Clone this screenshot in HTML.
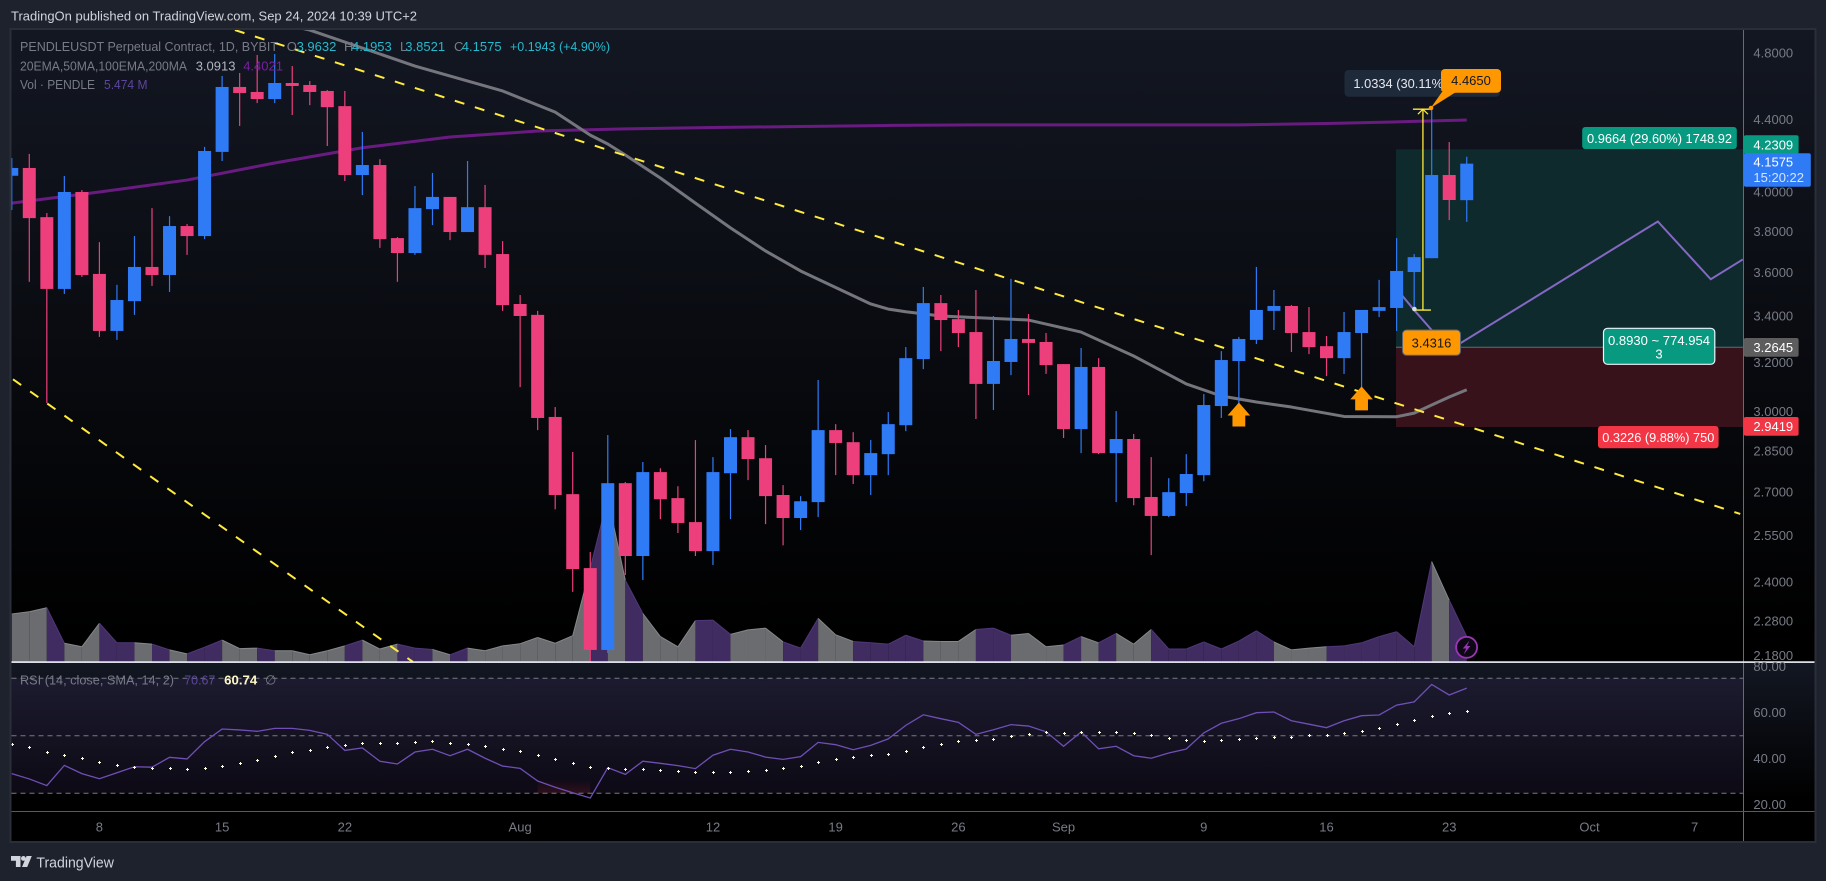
<!DOCTYPE html>
<html lang="en">
<head>
<meta charset="utf-8">
<title>PENDLEUSDT chart</title>
<style>
html,body{margin:0;padding:0;background:#1e222d;overflow:hidden}
svg{display:block}
text{font-family:"Liberation Sans",sans-serif;font-size:13px}
.tick{fill:#787b86}
.gray{fill:#787b86}
.cyan{fill:#26b8cc}
</style>
</head>
<body>
<svg id="root" xmlns="http://www.w3.org/2000/svg" width="1826" height="881" viewBox="0 0 1826 881">
<defs>
<linearGradient id="paneGrad" gradientUnits="userSpaceOnUse" x1="0" y1="30" x2="0" y2="640"><stop offset="0" stop-color="#131722"/><stop offset="1" stop-color="#000"/></linearGradient>
<linearGradient id="rsiGrad" gradientUnits="userSpaceOnUse" x1="0" y1="663" x2="0" y2="800"><stop offset="0" stop-color="#131722"/><stop offset="1" stop-color="#000"/></linearGradient>
<linearGradient id="osGrad" gradientUnits="userSpaceOnUse" x1="0" y1="780" x2="0" y2="793"><stop offset="0" stop-color="#f23645" stop-opacity="0"/><stop offset="1" stop-color="#f23645" stop-opacity=".15"/></linearGradient>
<clipPath id="mainClip"><rect x="11.5" y="30" width="1732" height="631.5"/></clipPath>
<clipPath id="rsiClip"><rect x="11.5" y="663" width="1732" height="148"/></clipPath>
</defs>

<rect x="0" y="0" width="1826" height="881" fill="#1e222d"/>
<text x="11" y="20.5" fill="#d1d4dc" textLength="406" lengthAdjust="spacingAndGlyphs">TradingOn published on TradingView.com, Sep 24, 2024 10:39 UTC+2</text>

<rect x="10.5" y="29" width="1805" height="813" fill="none" stroke="#2a2e39" stroke-width="2"/>
<rect x="11.5" y="30" width="1803" height="632" fill="url(#paneGrad)"/>
<rect x="11.5" y="663" width="1803" height="148" fill="url(#rsiGrad)"/>
<rect x="11.5" y="811" width="1803" height="30" fill="#000"/>

<g clip-path="url(#mainClip)">
  <rect x="1396" y="149.3" width="348" height="198" fill="#0e2a2d"/>
  <rect x="1396" y="347.3" width="348" height="79.7" fill="#38121a"/>
  <line x1="1396" x2="1744" y1="347.3" y2="347.3" stroke="#5f6f70" stroke-width="1"/>
  <g id="volumeLayer"></g>
  <g id="drawLayer"></g>
  <g id="candleLayer"></g>
  <g id="overLayer"></g>
</g>

<g clip-path="url(#rsiClip)">
  <g id="rsiLayer"></g>
</g>

<rect x="1743" y="30" width="1" height="811" fill="#686b75"/>
<rect x="11.5" y="811" width="1803" height="1" fill="#575a64"/>
<rect x="11.5" y="661.3" width="1803" height="1.6" fill="#f0f3fa"/>

<g id="axisLayer"></g>

<!-- legend -->
<g>
  <text x="20" y="51" class="gray" textLength="258" lengthAdjust="spacingAndGlyphs">PENDLEUSDT Perpetual Contract, 1D, BYBIT</text>
  <text x="286.7" y="51" class="gray">O</text>
  <text x="296.6" y="51" class="cyan">3.9632</text>
  <text x="344" y="51" class="gray">H</text>
  <text x="352" y="51" class="cyan">4.1953</text>
  <text x="400" y="51" class="gray">L</text>
  <text x="405.3" y="51" class="cyan">3.8521</text>
  <text x="454" y="51" class="gray">C</text>
  <text x="461.8" y="51" class="cyan">4.1575</text>
  <text x="510" y="51" class="cyan" textLength="100" lengthAdjust="spacingAndGlyphs">+0.1943 (+4.90%)</text>
  <text x="20" y="70.5" class="gray" textLength="167" lengthAdjust="spacingAndGlyphs">20EMA,50MA,100EMA,200MA</text>
  <text x="195.7" y="70.5" fill="#b2b5be">3.0913</text>
  <text x="243.2" y="70.5" fill="#7b1fa2">4.4021</text>
  <text x="20" y="89" class="gray" textLength="75" lengthAdjust="spacingAndGlyphs">Vol · PENDLE</text>
  <text x="104" y="89" fill="#5e45a0" textLength="43.5" lengthAdjust="spacingAndGlyphs">5.474 M</text>
  <text x="20" y="684.5" class="gray" textLength="154" lengthAdjust="spacingAndGlyphs">RSI (14, close, SMA, 14, 2)</text>
  <text x="184.3" y="684.5" fill="#5e45a0" textLength="31" lengthAdjust="spacingAndGlyphs">70.67</text>
  <text x="224.2" y="684.5" fill="#fff9c4" font-weight="bold" style="font-weight:bold" textLength="33" lengthAdjust="spacingAndGlyphs">60.74</text>
  <text x="265" y="684.5" class="gray">∅</text>
</g>

<!-- measure + callouts -->
<g>
  <rect x="1344.5" y="70" width="155.5" height="26.7" rx="4" fill="#1e2a3a"/>
  <text x="1353.4" y="88" fill="#e4e7ee" textLength="94" lengthAdjust="spacingAndGlyphs">1.0334 (30.11%)</text>
</g>
<g>
  <polygon points="1430.7,108 1442,92 1456,92" fill="#ff9800"/>
  <rect x="1441" y="69" width="60" height="23.7" rx="4" fill="#ff9800"/>
  <text x="1471" y="85" text-anchor="middle" fill="#131722">4.4650</text>
  <circle cx="1431" cy="108" r="2.3" fill="#ff9800"/>
</g>
<g>
  <rect x="1402.5" y="330" width="58" height="25.3" rx="4" fill="#ff9800" stroke="#5d6470" stroke-width="1"/>
  <text x="1431.5" y="347.5" text-anchor="middle" fill="#131722">3.4316</text>
  <circle cx="1414.4" cy="309" r="2.3" fill="#d8dce6"/>
</g>
<g>
  <rect x="1582.2" y="127" width="154.6" height="22" rx="3" fill="#089981"/>
  <text x="1659.5" y="143" text-anchor="middle" fill="#fff" textLength="145" lengthAdjust="spacingAndGlyphs">0.9664 (29.60%) 1748.92</text>
  <rect x="1603.5" y="328.3" width="111.3" height="36" rx="4" fill="#089981" stroke="#f0f3fa" stroke-width="1.2"/>
  <text x="1659" y="345" text-anchor="middle" fill="#fff" textLength="102" lengthAdjust="spacingAndGlyphs">0.8930 ~ 774.954</text>
  <text x="1659" y="358.5" text-anchor="middle" fill="#fff">3</text>
  <rect x="1598" y="426" width="120.6" height="22.3" rx="3" fill="#f23645"/>
  <text x="1658.3" y="442" text-anchor="middle" fill="#fff" textLength="112" lengthAdjust="spacingAndGlyphs">0.3226 (9.88%) 750</text>
</g>

<!-- axis price tags -->
<g>
  <rect x="1743.8" y="135.3" width="54.8" height="18.7" rx="2" fill="#089981"/>
  <text x="1753.4" y="149.5" fill="#fff">4.2309</text>
  <rect x="1743.8" y="153.3" width="67" height="33.4" rx="2" fill="#2f7bf6"/>
  <text x="1753.4" y="166.5" fill="#fff">4.1575</text>
  <text x="1753.4" y="182" fill="#d5e4ff">15:20:22</text>
  <rect x="1743.8" y="338" width="54.8" height="18.7" rx="2" fill="#5d5d5d"/>
  <text x="1753.4" y="352" fill="#fff">3.2645</text>
  <rect x="1743.8" y="417" width="54.8" height="18.7" rx="2" fill="#f23645"/>
  <text x="1753.4" y="431" fill="#fff">2.9419</text>
</g>

<!-- lightning button -->
<g>
  <circle cx="1466.6" cy="647.3" r="10.5" fill="#0c0814" stroke="#9c35b5" stroke-width="1.8"/>
  <polygon points="1469.5,640.5 1462.8,648.5 1466.2,648.5 1463.6,654.5 1470.4,646 1467,646" fill="#9c35b5"/>
</g>

<!-- footer logo -->
<g>
  <path d="M11 856h9.5v11h-4.6v-6.3H11z" fill="#d1d4dc"/>
  <circle cx="23.4" cy="858.4" r="2.4" fill="#d1d4dc"/>
  <path d="M26.6 856h5.2l-4.6 11h-5.2z" fill="#d1d4dc"/>
  <text x="36.4" y="867.5" fill="#d1d4dc" style="font-size:15px" textLength="77.5" lengthAdjust="spacingAndGlyphs">TradingView</text>
</g>
</svg>

<script>
var barOpen=[4.092,4.134,3.876,3.528,4.006,3.598,3.339,3.472,3.631,3.593,
3.831,3.781,4.222,4.597,4.567,4.525,4.621,4.609,4.573,4.483,
4.096,4.150,3.771,3.698,3.917,3.980,3.801,3.927,3.693,3.459,
3.410,2.983,2.696,2.447,2.198,2.735,2.486,2.775,2.682,2.599,
2.502,2.771,2.905,2.826,2.693,2.613,2.668,2.932,2.886,2.764,
2.841,2.951,3.218,3.463,3.391,3.334,3.115,3.206,3.304,3.291,
3.197,2.936,3.185,2.845,2.898,2.686,2.620,2.700,2.764,3.026,
3.210,3.300,3.428,3.450,3.334,3.273,3.222,3.330,3.428,3.441,
3.607,3.673,4.096,3.9632];
var barHigh=[4.188,4.211,3.897,4.091,4.016,3.751,3.547,3.781,3.922,3.881,
3.841,4.250,4.664,4.682,4.794,4.800,4.725,4.633,4.579,4.573,
4.334,4.182,3.776,4.037,4.107,3.980,4.172,4.043,3.756,3.500,
3.428,3.022,2.849,2.499,2.913,2.739,2.812,2.789,2.724,2.894,
2.830,2.936,2.932,2.875,2.728,2.689,3.131,2.955,2.924,2.894,
3.002,3.269,3.537,3.500,3.432,3.523,3.405,3.575,3.414,3.330,
3.197,3.265,3.222,3.006,2.917,2.830,2.753,2.841,3.074,3.252,
3.313,3.631,3.523,3.454,3.445,3.317,3.423,3.432,3.570,3.771,
3.693,4.465,4.277,4.1953];
var barLow=[3.912,3.561,3.038,3.505,3.584,3.313,3.300,3.410,3.542,3.514,
3.689,3.766,4.172,4.368,4.501,4.501,4.431,4.489,4.255,4.064,
3.990,3.723,3.561,3.689,3.836,3.761,3.801,3.626,3.428,3.102,
2.932,2.643,2.372,2.163,2.189,2.425,2.409,2.609,2.562,2.486,
2.457,2.609,2.746,2.592,2.521,2.572,2.616,2.764,2.732,2.693,
2.764,2.928,3.176,3.252,3.269,2.975,3.010,3.151,3.070,3.156,
2.902,2.845,2.841,2.668,2.657,2.489,2.616,2.654,2.742,2.979,
3.038,3.282,3.343,3.248,3.239,3.147,3.156,3.102,3.400,3.339,
3.436,3.673,3.861,3.8521];
var barClose=[4.134,3.871,3.528,4.006,3.593,3.339,3.477,3.631,3.593,3.831,
3.781,4.227,4.597,4.561,4.525,4.621,4.603,4.567,4.477,4.096,
4.150,3.766,3.698,3.922,3.980,3.801,3.927,3.689,3.454,3.405,
2.979,2.693,2.444,2.198,2.735,2.486,2.775,2.678,2.596,2.502,
2.775,2.905,2.823,2.689,2.613,2.671,2.932,2.883,2.764,2.845,
2.955,3.222,3.463,3.387,3.330,3.115,3.210,3.304,3.287,3.193,
2.936,3.185,2.845,2.898,2.682,2.620,2.703,2.768,3.030,3.214,
3.304,3.432,3.450,3.330,3.269,3.222,3.334,3.432,3.445,3.612,
3.678,4.096,3.964,4.1575];
var volumeM=[10.6,11.1,12.0,4.0,3.2,8.5,4.1,4.1,3.8,2.5,
1.6,3.1,4.7,2.8,2.9,2.3,2.3,1.4,2.3,3.4,
4.7,2.7,3.8,2.9,2.6,1.4,2.9,2.3,3.4,3.9,
5.3,4.0,5.7,20.9,36.7,18.2,10.7,5.5,3.2,9.1,
9.2,6.0,7.0,7.4,4.3,2.9,9.6,5.9,4.4,4.1,
3.8,5.8,4.5,4.4,4.4,7.1,7.4,5.8,6.2,3.2,
3.6,5.5,4.1,6.2,3.8,7.1,2.7,2.7,4.3,2.7,
4.5,6.8,4.3,2.5,2.9,3.2,3.4,4.1,5.5,6.6,
3.2,22.4,13.7,5.474];
var rsiValues=[33.5,31.2,28.3,37.1,33.5,31.3,33.9,36.5,36.3,40.6,
39.9,47.4,52.9,52.5,51.9,53.2,53.2,52.3,50.6,43.6,
44.7,38.9,37.7,42.9,44.1,41.3,44.1,40.2,36.8,35.8,
30.3,27.6,25.2,22.9,36.1,33.2,38.9,38,37,35.7,
41.5,44.1,42.9,40.7,39.7,40.9,47.1,46.1,43.9,45.8,
48.6,54.5,59.1,57.4,55.8,50.6,52.6,54.8,54.2,51.7,
45.4,51.6,44.3,45.4,41.3,40.2,42.5,44.2,51.2,55.4,
57.4,60,60.3,56.5,55,53.5,56.5,58.7,59,63.3,
64.7,72.3,67.7,70.67];
var rsiSignal=[46.3,45,42.8,41.5,40.2,38.4,37.1,36.3,35.8,35.8,
35.4,35.8,36.7,38,39.3,41,42.8,43.6,45,45.8,
46.7,46.7,46.7,47.1,47.6,46.7,46.3,45.4,44.1,43.2,
41.5,39.7,38,36.3,35.8,35.4,35.4,35,34.5,34.1,
34.1,34.1,34.5,35,35.8,36.7,38.4,39.7,40.6,41.5,
41.9,43.2,45,46.3,47.6,48,48.4,49.7,50.6,51.5,
51,51.5,51.5,51.5,51,50.2,48.9,48,47.6,48,
48.4,48.9,49.3,49.3,50.2,50.2,51,51.9,53.2,55,
56.7,58.4,59.7,60.74];
var ma200Bars=[0,5,10,15,20,25,30,35,40,45,50,55,60,65,70,75,80,83];
var ma200Values=[3.948,4.006,4.069,4.161,4.245,4.305,4.339,4.351,4.359,4.365,4.371,4.374,4.374,4.374,4.374,4.382,4.394,4.4021];
var emaBars=[16,17,21,23,28,31,33,34,35,37,39,41,43,45,49,50,51,53,58,61,64,67,69,71,73,76,79,80,81,82,83];
var emaValues=[4.979,4.953,4.8,4.725,4.573,4.448,4.316,4.266,4.205,4.080,3.948,3.822,3.708,3.612,3.459,3.436,3.424,3.405,3.387,3.334,3.231,3.115,3.066,3.042,3.022,2.985,2.984,2.998,3.030,3.062,3.0913];
var upperTrendBars=[12.73,98.6];
var upperTrendPrices=[4.953,2.627];
var lowerTrendBars=[0.07,22.88];
var lowerTrendPrices=[3.134,2.164];
var zigzagBars=[79.29,80,82,93.9,96.92,98.75];
var zigzagPrices=[3.5,3.4316,3.256,3.854,3.573,3.667];
var measureBar=[80.5];
var measurePrices=[3.4316,4.465];
var arrowBars=[70,77];
var arrowPrices=[3.04,3.105];
var priceTicks=["4.8000","4.4000","4.0000","3.8000","3.6000","3.4000","3.2000","3.0000","2.8500","2.7000","2.5500","2.4000","2.2800","2.1800"];
var rsiTicks=["80.00","60.00","40.00","20.00"];
var rsiBands=[75,50,25];
var dateTickBars=[5,12,19,29,40,47,54,60,68,75,82,90,96];
var dateTickLabels=["8","15","22","Aug","12","19","26","Sep","9","16","23","Oct","7"];

var NS="http://www.w3.org/2000/svg";
function xBar(i){return 11.76+17.53*i;}
function yPrice(p){return 54+763*Math.log(4.8/p);}
function yRsi(v){return 735.7-2.3*(v-50);}
function yVol(v){return 661-v*4.44;}
function make(tag,host,attrs){
  var el=document.createElementNS(NS,tag);
  for(var k in attrs){el.setAttribute(k,attrs[k]);}
  host.appendChild(el);
  return el;
}
function pathFrom(bars,vals,yFn){
  var d="";
  for(var i=0;i<bars.length;i++){d+=(i?"L":"M")+xBar(bars[i]).toFixed(2)+" "+yFn(vals[i]).toFixed(2);}
  return d;
}

var volumeLayer=document.getElementById("volumeLayer");
var drawLayer=document.getElementById("drawLayer");
var candleLayer=document.getElementById("candleLayer");
var overLayer=document.getElementById("overLayer");
var rsiLayer=document.getElementById("rsiLayer");
var axisLayer=document.getElementById("axisLayer");

/* volume */
for(var v=1;v<volumeM.length;v++){
  var isUpVol=barClose[v]>=barOpen[v];
  var x0=xBar(v-1),x1=xBar(v),y0=yVol(volumeM[v-1]),y1=yVol(volumeM[v]);
  var seg=make("polygon",volumeLayer,{points:x0+","+y0+" "+x1+","+y1+" "+x1+",661.5 "+x0+",661.5",fill:isUpVol?"#402c60":"#6a6c70"});
  
  
  var edge=make("line",volumeLayer,{x1:x0,y1:y0,x2:x1,y2:y1,stroke:isUpVol?"#4e3778":"#85878b","stroke-width":1});
  
  
}

/* trend lines and averages */
var maLine=make("path",drawLayer,{d:pathFrom(ma200Bars,ma200Values,yPrice),fill:"none",stroke:"#6a1b82","stroke-width":3,"stroke-linejoin":"round"});


var emaLine=make("path",drawLayer,{d:pathFrom(emaBars,emaValues,yPrice),fill:"none",stroke:"#75767d","stroke-width":3,"stroke-linejoin":"round"});


var trendUpper=make("path",drawLayer,{d:pathFrom(upperTrendBars,upperTrendPrices,yPrice),fill:"none",stroke:"#ffeb3b","stroke-width":2,"stroke-dasharray":"10 11"});


var trendLower=make("path",drawLayer,{d:pathFrom(lowerTrendBars,lowerTrendPrices,yPrice),fill:"none",stroke:"#ffeb3b","stroke-width":2,"stroke-dasharray":"10 11"});


var zigzag=make("path",drawLayer,{d:pathFrom(zigzagBars,zigzagPrices,yPrice),fill:"none",stroke:"#8468c4","stroke-width":2});



/* candles */
for(var c=0;c<barOpen.length;c++){
  var isUpBar=barClose[c]>=barOpen[c];
  var barColor=isUpBar?"#2f7bf6":"#ec3f7b";
  var cx=xBar(c);
  var bodyTop=yPrice(Math.max(barOpen[c],barClose[c]));
  var bodyBottom=yPrice(Math.min(barOpen[c],barClose[c]));
  var wick=make("rect",candleLayer,{x:cx-0.6,y:yPrice(barHigh[c]),width:1.2,height:yPrice(barLow[c])-yPrice(barHigh[c]),fill:barColor});
  
  
  var candleBody=make("rect",candleLayer,{x:cx-6.5,y:bodyTop,width:13,height:Math.max(1,bodyBottom-bodyTop),fill:barColor});
  
  
}

/* measure tool */
var mx=xBar(measureBar[0]);
var my0=yPrice(measurePrices[0]),my1=yPrice(measurePrices[1]);
var mLine=make("line",overLayer,{x1:mx,x2:mx,y1:my0,y2:my1,stroke:"#ffeb3b","stroke-width":1.3});


var capA=make("line",overLayer,{x1:mx-10,x2:mx+8,y1:my0,y2:my0,stroke:"#ffeb3b","stroke-width":1.3});


var capB=make("line",overLayer,{x1:mx-10,x2:mx+8,y1:my1,y2:my1,stroke:"#ffeb3b","stroke-width":1.3});


var mHead=make("path",overLayer,{d:"M"+(mx-5)+" "+(my1+5)+"L"+mx+" "+my1+"L"+(mx+5)+" "+(my1+5),fill:"none",stroke:"#ffeb3b","stroke-width":1.2});



/* up arrows */
for(var a=0;a<arrowBars.length;a++){
  var ax=xBar(arrowBars[a]),ay=yPrice(arrowPrices[a]);
  var arrow=make("polygon",overLayer,{points:[ax,ay,ax+11.3,ay+13,ax+6.4,ay+13,ax+6.4,ay+24,ax-6.4,ay+24,ax-6.4,ay+13,ax-11.3,ay+13].join(" "),fill:"#ff9800"});
  
  
}

/* rsi pane */
var band=make("rect",rsiLayer,{x:11.5,y:yRsi(rsiBands[0]),width:1732,height:yRsi(rsiBands[2])-yRsi(rsiBands[0]),fill:"#7e57c2","fill-opacity":0.1});


var osFill=make("rect",rsiLayer,{x:xBar(30),y:780,width:xBar(33)-xBar(30),height:yRsi(rsiBands[2])-780,fill:"url(#osGrad)"});


for(var b=0;b<rsiBands.length;b++){
  var bandLine=make("line",rsiLayer,{x1:11.5,x2:1743.5,y1:yRsi(rsiBands[b]),y2:yRsi(rsiBands[b]),stroke:"#787b86","stroke-width":1,"stroke-dasharray":"5 4"});
  
  
}
var rsiBarsIdx=[];
for(var r=0;r<rsiValues.length;r++){rsiBarsIdx.push(r);}
var rsiPath=make("path",rsiLayer,{d:pathFrom(rsiBarsIdx,rsiValues,yRsi),fill:"none",stroke:"#6f4fb5","stroke-width":1.3});


for(var s=0;s<rsiSignal.length;s++){
  var dotX=Math.round(xBar(s))+0.5;
  var dotY=Math.round(yRsi(rsiSignal[s]))+0.5;
  var dot=make("path",rsiLayer,{d:"M"+(dotX-1.5)+" "+dotY+"h3M"+dotX+" "+(dotY-1.5)+"v3",stroke:"#fffde0","stroke-width":1,fill:"none"});
  
  
}

/* axis labels */
for(var p=0;p<priceTicks.length;p++){
  var priceLabel=make("text",axisLayer,{x:1753.4,y:yPrice(parseFloat(priceTicks[p]))+3.6,"class":"tick"});
  priceLabel.textContent=priceTicks[p];
  
  
}
for(var q=0;q<rsiTicks.length;q++){
  var rsiLabel=make("text",axisLayer,{x:1753.4,y:yRsi(parseFloat(rsiTicks[q]))+4.4,"class":"tick"});
  rsiLabel.textContent=rsiTicks[q];
  
  
}
for(var t=0;t<dateTickBars.length;t++){
  var dateLabel=make("text",axisLayer,{x:xBar(dateTickBars[t]),y:831.5,"text-anchor":"middle","class":"tick"});
  dateLabel.textContent=dateTickLabels[t];
  
  
}
</script>
</body>
</html>
